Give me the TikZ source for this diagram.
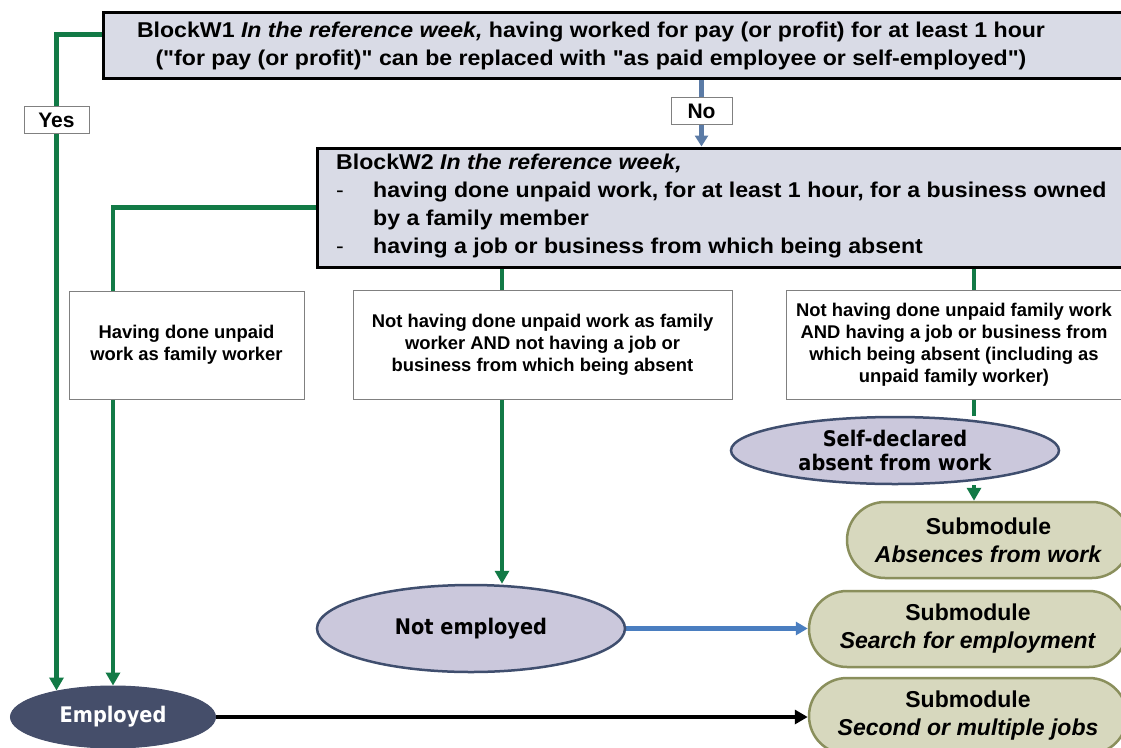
\documentclass[tikz,border=0pt]{standalone}
\usepackage{fontspec}
\setmainfont{Liberation Sans}
\newfontfamily\blockfont[FakeStretch=1.08]{Liberation Sans}
\newfontfamily\ellfont[FakeStretch=0.9]{DejaVu Sans}
\usetikzlibrary{arrows.meta,shapes.geometric}
\definecolor{blockfill}{RGB}{217,219,230}
\definecolor{flowgreen}{RGB}{18,122,70}
\definecolor{nogray}{RGB}{91,123,166}
\definecolor{searchblue}{RGB}{74,126,192}
\definecolor{ellfill}{RGB}{203,200,220}
\definecolor{ellline}{RGB}{63,78,110}
\definecolor{empfill}{RGB}{69,78,106}
\definecolor{subfill}{RGB}{215,216,190}
\definecolor{subline}{RGB}{138,143,92}
\definecolor{boxline}{RGB}{128,128,128}
\pgfdeclarelayer{bg}
\pgfsetlayers{bg,main}
\begin{document}
\begin{tikzpicture}[x=1pt,y=-1pt,
  blockbox/.style={draw=black,line width=3pt,fill=blockfill,inner sep=0pt},
  blocktext/.style={inner sep=0pt,font=\blockfont\bfseries\fontsize{21.4}{28}\selectfont},
  labelbox/.style={draw=boxline,line width=1pt,fill=white,inner sep=0pt,minimum width=65pt,minimum height=27pt,font=\bfseries\fontsize{21}{21}\selectfont},
  condbox/.style={draw=boxline,line width=1pt,fill=white,inner sep=0pt,align=center,font=\bfseries\fontsize{18.4}{22}\selectfont},
  stateell/.style={ellipse,draw=ellline,line width=2.5pt,fill=ellfill,inner sep=0pt,align=center,font=\ellfont\bfseries\fontsize{21.5}{24}\selectfont},
  empell/.style={ellipse,draw=empfill,line width=1pt,fill=empfill,text=white,inner sep=0pt,font=\ellfont\bfseries\fontsize{21.5}{24}\selectfont},
  subbox/.style={rectangle,rounded corners=38pt,draw=subline,line width=2.5pt,fill=subfill,inner sep=0pt,minimum height=76pt,align=center,font=\bfseries\fontsize{23}{28}\selectfont},
  gline/.style={draw=flowgreen,line width=4.5pt},
  garrow/.style={gline,-{Triangle[width=14pt,length=13pt]}},
  noline/.style={draw=nogray,line width=4.5pt},
  noarrow/.style={noline,-{Triangle[width=13pt,length=11pt]}},
  bluearrow/.style={draw=searchblue,line width=4.5pt,-{Triangle[width=13pt,length=12pt]}},
  blackarrow/.style={draw=black,line width=4.5pt,-{Triangle[width=14pt,length=13pt]}}
]
\useasboundingbox (0,0) rectangle (1121,747);

% blocks
\node[blockbox,minimum width=1040pt,minimum height=66pt,anchor=north west] (w1) at (102,11) {};
\node[blocktext,align=center] (w1t) at (591,45.5) {BlockW1 \textit{In the reference week,} having worked for pay (or profit) for at least 1 hour\\("for pay (or profit)" can be replaced with "as paid employee or self-employed")};
\node[blockbox,minimum width=826pt,minimum height=119pt,anchor=north west] (w2) at (316,146.5) {};
\node[blocktext,align=left,anchor=west] (w2t) at (336,206) {BlockW2 \textit{In the reference week,}\\\makebox[37pt][l]{\mdseries-}having done unpaid work, for at least 1 hour, for a business owned\\\hspace*{37pt}by a family member\\\makebox[37pt][l]{\mdseries-}having a job or business from which being absent};

% labels
\node[labelbox] (yes) at (56.5,120) {Yes};
\node[labelbox,minimum width=61pt] (no) at (701.5,111) {No};

% condition boxes
\node[condbox,minimum width=235pt,minimum height=108pt] (c1) at (186.5,345) {Having done unpaid\\work as family worker};
\node[condbox,minimum width=379pt,minimum height=109pt] (c2) at (542.5,344.5) {Not having done unpaid work as family\\worker AND not having a job or\\business from which being absent};
\node[condbox,minimum width=336pt,minimum height=109pt] (c3) at (954,344.5) {Not having done unpaid family work\\AND having a job or business from\\which being absent (including as\\unpaid family worker)};

% states
\node[stateell,minimum width=308pt,minimum height=87pt] (ne) at (471,628.5) {Not employed};
\node[stateell,minimum width=328pt,minimum height=67pt] (sd) at (895,450.5) {Self-declared\\absent from work};
\node[empell,minimum width=205pt,minimum height=62pt] (emp) at (113,717) {Employed};

% submodules
\node[subbox,minimum width=283pt] (sa) at (988.5,540) {Submodule\\\textit{Absences from work}};
\node[subbox,minimum width=318pt] (ss) at (968,629) {Submodule\\\textit{Search for employment}};
\node[subbox,minimum width=318pt] (sm) at (968,716) {Submodule\\\textit{Second or multiple jobs}};

\coordinate (v2) at (502,0);
\coordinate (v3) at (974,0);

\begin{pgfonlayer}{bg}
\fill[white] (0,0) rectangle (1121,747);
\draw[gline] ([yshift=11pt]w1.west) -| (yes.north);
\draw[garrow,shorten >=-5pt] (yes.south) -- (yes.south |- emp.north);
\draw[noline] (no.north |- w1.south) -- (no.north);
\draw[noarrow] (no.south) -- (no.south |- w2.north);
\draw[gline] (w2.west) -| (c1.north -| emp.north);
\draw[garrow] (c1.south -| emp.north) -- (emp.north);
\draw[gline] (v2 |- w2.south) -- (v2 |- c2.north);
\draw[garrow] (v2 |- c2.south) -- (v2 |- ne.north);
\draw[gline] (v3 |- w2.south) -- (v3 |- c3.north);
\draw[gline] (v3 |- c3.south) -- (v3 |- sd.north);
\draw[garrow] (v3 |- sd.south) -- (v3 |- sa.north);
\draw[bluearrow] (ne.east) -- (ne.east -| ss.west);
\draw[blackarrow] (emp.east) -- (emp.east -| sm.west);
\end{pgfonlayer}
\end{tikzpicture}
\end{document}
